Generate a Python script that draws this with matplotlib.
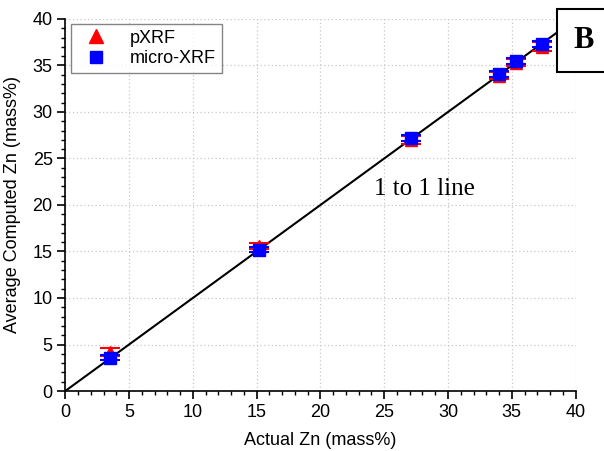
import matplotlib.pyplot as plt
from matplotlib.ticker import AutoMinorLocator
import numpy as np

plt.rcParams['font.family'] = ['Liberation Sans', 'DejaVu Sans']

actual = [3.5, 15.2, 27.1, 34.0, 35.3, 37.4]
pxrf = [4.2, 15.6, 27.0, 33.9, 35.3, 37.0]
pxrf_err = [0.4, 0.3, 0.4, 0.4, 0.4, 0.5]
micro = [3.6, 15.2, 27.2, 34.1, 35.5, 37.3]
micro_err = [0.3, 0.3, 0.3, 0.3, 0.3, 0.3]
one_to_one = [0, 40]

fig = plt.figure(figsize=(6.04, 4.51), dpi=100)
ax = fig.add_axes([0.108, 0.133, 0.845, 0.825])

ax.plot(one_to_one, one_to_one, color='black', lw=1.5, zorder=2)
ax.errorbar(actual, pxrf, yerr=pxrf_err, fmt='^', color='red', ms=9,
            capsize=7, capthick=1.5, elinewidth=1, label='pXRF', zorder=3)
ax.errorbar(actual, micro, yerr=micro_err, fmt='s', color='blue', ms=8,
            capsize=7, capthick=1.5, elinewidth=1, label='micro-XRF', zorder=4)

ax.set_xlim(0, 40)
ax.set_ylim(0, 40)
ax.set_xticks(np.arange(0, 41, 5))
ax.set_yticks(np.arange(0, 41, 5))
ax.xaxis.set_minor_locator(AutoMinorLocator(5))
ax.yaxis.set_minor_locator(AutoMinorLocator(5))
ax.tick_params(which='major', direction='out', length=6, width=1.2, labelsize=13, pad=3)
ax.tick_params(which='minor', direction='out', length=3, width=1)
for s in ['top', 'right']:
    ax.spines[s].set_visible(False)
ax.spines['left'].set_linewidth(1.2)
ax.spines['bottom'].set_linewidth(1.2)
ax.grid(True, which='major', linestyle=(0, (1, 2)), color='#c8c8c8', lw=0.9)
ax.set_axisbelow(True)

ax.set_xlabel('Actual Zn (mass%)', fontsize=13, labelpad=8)
ax.set_ylabel('Average Computed Zn (mass%)', fontsize=13, labelpad=8)

handles, labels = ax.get_legend_handles_labels()
handles = [h[0] for h in handles]
ax.legend(handles, labels, loc='upper left', fontsize=13, frameon=True,
          fancybox=False, edgecolor='#666666', handletextpad=0.8,
          handlelength=2.2, borderaxespad=0.3, borderpad=0.3,
          labelspacing=0.2, markerscale=1.1)

ax.text(24.2, 21.7, '1 to 1 line', fontsize=18, family='Liberation Serif', va='center')
fig.text(0.95, 0.91, 'B', fontsize=22, fontweight='bold', family='Liberation Serif',
         ha='left', va='center',
         bbox=dict(boxstyle='square,pad=0.55', facecolor='white', edgecolor='black', lw=1.5),
         zorder=10)

fig.savefig('out.png')
